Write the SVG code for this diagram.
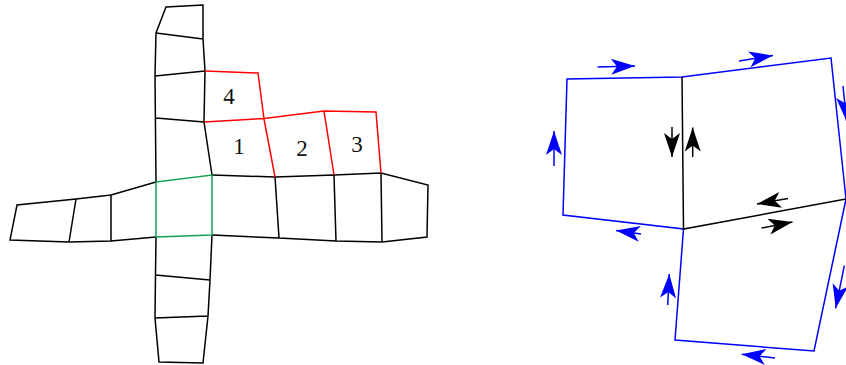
<svg xmlns="http://www.w3.org/2000/svg" width="846" height="365" viewBox="0 0 846 365">
<style>
.e{fill:none;stroke-width:1.5;stroke-linejoin:miter}
.k{stroke:#000}.r{stroke:#f00}.g{stroke:#12a150}.b{stroke:#00f}
.ab{fill:none;stroke:#00f;stroke-width:1.5;marker-end:url(#hb)}
.ak{fill:none;stroke:#000;stroke-width:1.5;marker-end:url(#hk)}
text{font-family:"Liberation Serif","DejaVu Serif",serif;font-size:23px;fill:#111;text-anchor:middle}
</style>
<defs>
<marker id="hb" markerUnits="userSpaceOnUse" markerWidth="30" markerHeight="20" viewBox="-26 -10 30 20" refX="0" refY="0" orient="auto"><path d="M-24,-8 L0,0 L-24,8 L-18,0 Z" fill="#00f"/></marker>
<marker id="hk" markerUnits="userSpaceOnUse" markerWidth="30" markerHeight="20" viewBox="-26 -10 30 20" refX="0" refY="0" orient="auto"><path d="M-24,-8 L0,0 L-24,8 L-18,0 Z" fill="#000"/></marker>
</defs>
<g id="connectors">
<g id="mesh-black">
<path class="e k" d="M156,182 L155,76 L156,33 L166,7 L203,5 L203,39 L205,71 L204,122 L212,175 M156,33 L203,39 M155,76 L205,71 M156,118 L204,122"/>
<path class="e k" d="M156,237 L155.500,275 L155,318 L159,362 L203,363 L208,316 L210,280 L212,235 M155.500,275 L210,280 M155,318 L208,316"/>
<path class="e k" d="M156,182 L111,195 L76,199 L17,205 L10,240 L69,242 L111,241 L156,237 M76,199 L69,242 M111,195 L111,241"/>
<path class="e k" d="M212,175 L275,177 L334,175 L381,173 L428,185 L427,237 L382,242 L336,241 L279,238 L212,235 M275,177 L279,238 M334,175 L336,241 M381,173 L382,242"/>
</g>
<g id="mesh-green"><path class="e g" d="M156,182 L212,175 L212,235 L156,237 Z"/></g>
<g id="mesh-red">
<path class="e r" d="M205,71 L258,73 L264,119 M204,122 L264,118.500 L324,111 L376,112 L381,173 M264,119 L275,177 M324,111 L334,175"/>
</g>
<g id="patch-edges">
<path class="e b" d="M682,77 L567,79 L563,215 L683.500,229 L675,340 L814,351 L846,199 L831,58 Z"/>
<path class="e k" d="M682,77 L683.500,229 L846,199"/>
</g>
<g id="patch-arrows">
<path class="ab" d="M597.500,67 L635,66"/>
<path class="ab" d="M739,61 L773,55.500"/>
<path class="ab" d="M554,166 L554,131"/>
<path class="ab" d="M843,86 L846.500,121"/>
<path class="ab" d="M641,234 L616,230.500"/>
<path class="ab" d="M667.700,305 L669.300,274"/>
<path class="ab" d="M844.300,265.700 L835.700,308.300"/>
<path class="ab" d="M775,358 L741.700,354.300"/>
<path class="ak" d="M672,127 L672,157"/>
<path class="ak" d="M692.700,157 L692.700,127.500"/>
<path class="ak" d="M788,198.500 L757,204"/>
<path class="ak" d="M761.500,228 L792.500,222"/>
</g>
</g>
<g id="label-4"><text x="229" y="104">4</text></g>
<g id="label-1"><text x="239" y="154">1</text></g>
<g id="label-2"><text x="302" y="156">2</text></g>
<g id="label-3"><text x="357" y="152">3</text></g>
</svg>
